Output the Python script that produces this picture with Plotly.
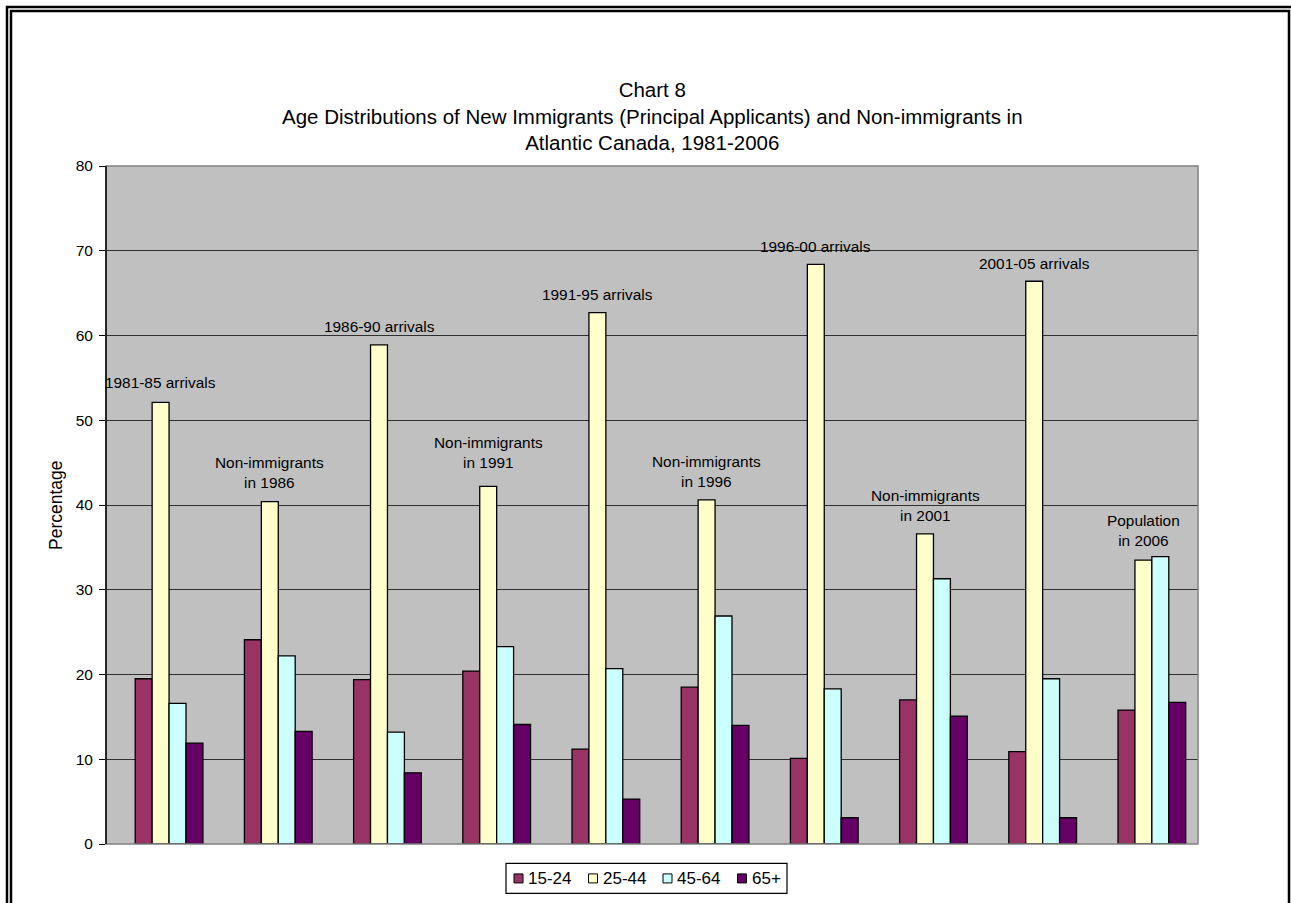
import plotly.graph_objects as go

# Groups along the x axis (arrival cohorts and comparison populations)
categories = [
    "1981-85 arrivals",
    "Non-immigrants<br>in 1986",
    "1986-90 arrivals",
    "Non-immigrants<br>in 1991",
    "1991-95 arrivals",
    "Non-immigrants<br>in 1996",
    "1996-00 arrivals",
    "Non-immigrants<br>in 2001",
    "2001-05 arrivals",
    "Population<br>in 2006",
]

# Percentage in each age group
age_15_24 = [19.5, 24.1, 19.4, 20.4, 11.2, 18.5, 10.1, 17.0, 10.9, 15.8]
age_25_44 = [52.1, 40.4, 58.9, 42.2, 62.7, 40.6, 68.4, 36.6, 66.4, 33.5]
age_45_64 = [16.6, 22.2, 13.2, 23.3, 20.7, 26.9, 18.3, 31.3, 19.5, 33.9]
age_65_plus = [11.9, 13.3, 8.4, 14.1, 5.3, 14.0, 3.1, 15.1, 3.1, 16.7]

series_names = ["15-24", "25-44", "45-64", "65+"]
series_values = [age_15_24, age_25_44, age_45_64, age_65_plus]
series_colors = ["#993366", "#FFFFCC", "#CCFFFF", "#660066"]

# Vertical placement (in percentage units) of the group captions
caption_y = [54.4, 43.8, 61.1, 46.2, 64.8, 43.9, 70.5, 40.0, 68.5, 37.0]

TITLE = ("Chart 8<br>Age Distributions of New Immigrants (Principal Applicants) "
         "and Non-immigrants in<br>Atlantic Canada, 1981-2006")

W, H = 1291, 903
L, R, T, B = 106, 1198, 166, 843.6
FONT = "Liberation Sans, Arial, sans-serif"


def px_x(x):
    return (x - L) / (R - L)


def px_y(y):
    return (B - y) / (B - T)


bar_w = 0.155
fig = go.Figure()
for i, (name, vals, col) in enumerate(zip(series_names, series_values, series_colors)):
    fig.add_trace(go.Bar(
        name=name,
        x=categories,
        y=vals,
        width=bar_w,
        offset=(i - 1.5) * bar_w,
        marker=dict(color=col, line=dict(color="black", width=1.3)),
        showlegend=False,
    ))

annotations = []
for cat, yv in zip(categories, caption_y):
    annotations.append(dict(
        x=cat, y=yv, xref="x", yref="y", text=cat, showarrow=False,
        font=dict(family=FONT, size=15.4, color="black"),
        yanchor="middle", xanchor="center", align="center",
    ))

# axis title
annotations.append(dict(
    x=px_x(56), y=0.5, xref="paper", yref="paper", text="Percentage",
    textangle=-90, showarrow=False, xanchor="center", yanchor="middle",
    font=dict(family=FONT, size=17.5, color="black"),
))

# chart title
annotations.append(dict(
    x=0.5, y=px_y(116), xref="paper", yref="paper", text=TITLE,
    showarrow=False, xanchor="center", yanchor="middle", align="center",
    font=dict(family=FONT, size=20.5, color="black"),
))

shapes = [
    # plot area border
    dict(type="rect", xref="paper", yref="paper", x0=0, y0=0, x1=1, y1=1,
         line=dict(color="#808080", width=1.5), layer="above"),
    # left axis line
    dict(type="line", xref="paper", yref="paper", x0=0, y0=0, x1=0, y1=1,
         line=dict(color="black", width=1.5), layer="above"),
    # double page frame
    dict(type="rect", xref="paper", yref="paper",
         x0=px_x(7), y0=px_y(7), x1=px_x(1295), y1=px_y(915),
         line=dict(color="black", width=2.5)),
    dict(type="rect", xref="paper", yref="paper",
         x0=px_x(11), y0=px_y(11), x1=px_x(1289), y1=px_y(915),
         line=dict(color="black", width=2.5)),
]

# compact boxed legend under the plot
LEG_X0, LEG_X1, LEG_Y0, LEG_Y1 = 506, 787, 863, 893
LEG_MID = (LEG_Y0 + LEG_Y1) / 2
LEG_PITCH, SW = 74.5, 9
shapes.append(dict(type="rect", xref="paper", yref="paper",
                   x0=px_x(LEG_X0), x1=px_x(LEG_X1), y0=px_y(LEG_Y1), y1=px_y(LEG_Y0),
                   line=dict(color="black", width=1.2), fillcolor="white"))
for k, (name, col) in enumerate(zip(series_names, series_colors)):
    mx = 514 + k * LEG_PITCH
    shapes.append(dict(type="rect", xref="paper", yref="paper",
                       x0=px_x(mx), x1=px_x(mx + SW),
                       y0=px_y(LEG_MID + SW / 2), y1=px_y(LEG_MID - SW / 2),
                       line=dict(color="black", width=1), fillcolor=col))
    annotations.append(dict(
        x=px_x(mx + SW + 3), y=px_y(LEG_MID), xref="paper", yref="paper",
        text=name, showarrow=False, xanchor="left", yanchor="middle",
        font=dict(family=FONT, size=17, color="black"),
    ))

fig.update_layout(
    width=W, height=H,
    margin=dict(l=L, r=W - R, t=T, b=H - B),
    paper_bgcolor="white",
    plot_bgcolor="#C0C0C0",
    barmode="overlay",
    showlegend=False,
    font=dict(family=FONT, size=15.5, color="black"),
    xaxis=dict(showticklabels=False, ticks="", showgrid=False, zeroline=False,
               showline=False, range=[-0.5, len(categories) - 0.5]),
    yaxis=dict(range=[0, 80], dtick=10, showgrid=True, gridcolor="#303030",
               gridwidth=1, zeroline=False, ticks="outside", ticklen=6,
               tickcolor="black", tickfont=dict(family=FONT, size=15.5),
               ticklabelstandoff=3, showline=False),
    annotations=annotations,
    shapes=shapes,
)

fig.write_html("out.html")
